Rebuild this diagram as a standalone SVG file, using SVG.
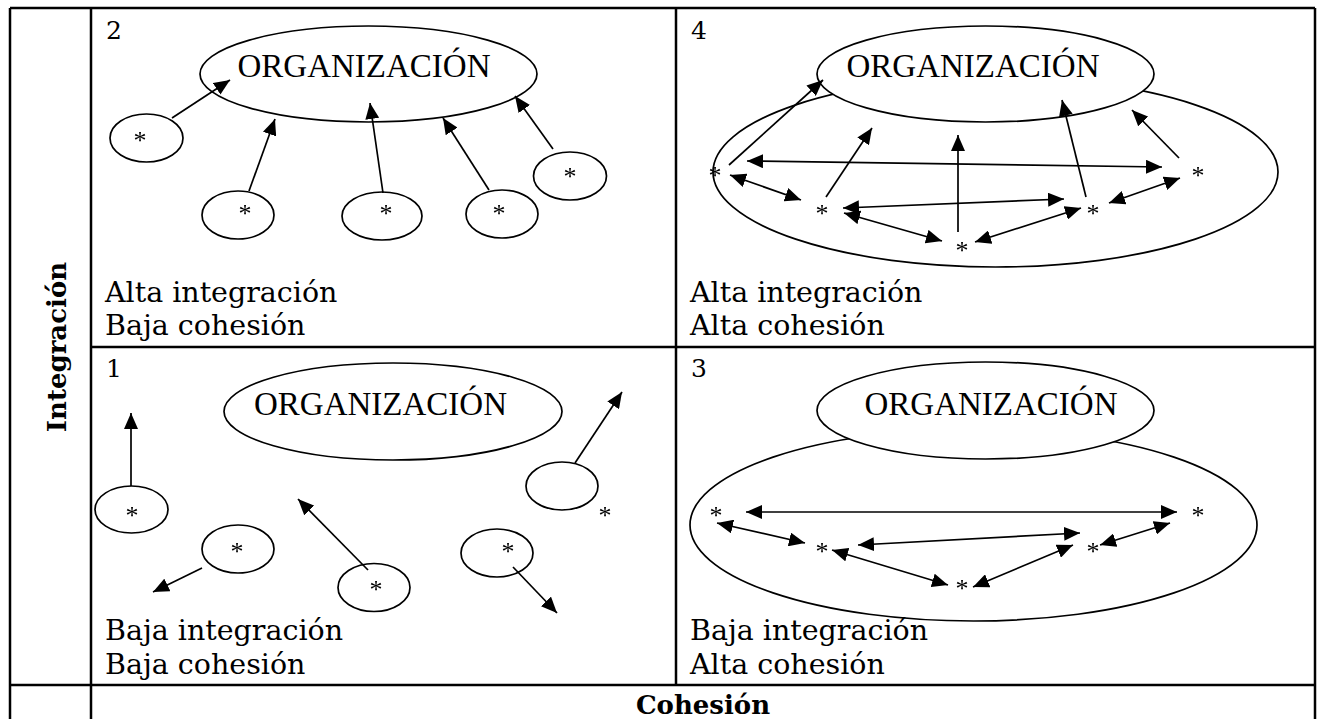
<svg xmlns="http://www.w3.org/2000/svg" width="1319" height="719" viewBox="0 0 1319 719">
  <style>
    .grid { stroke: #000; stroke-width: 2.5; fill: none; }
    .ell { stroke: #000; stroke-width: 1.7; fill: #fff; }
    .ring { stroke: #000; stroke-width: 1.7; fill: none; }
    .ln { stroke: #000; stroke-width: 1.7; fill: none; marker-end: url(#ah); }
    .dbl { stroke: #000; stroke-width: 1.7; fill: none; marker-end: url(#ah); marker-start: url(#ah); }
    .org { font-family: "Liberation Serif", "Times New Roman", serif; font-size: 33px; text-anchor: middle; fill: #000; }
    .star { font-family: "Liberation Serif", serif; font-size: 26px; text-anchor: middle; fill: #000; filter: url(#flat); }
    .lbl { font-family: "DejaVu Serif", serif; font-size: 28.5px; fill: #000; }
    .num { font-family: "DejaVu Serif", serif; font-size: 25px; fill: #000; }
    .axis { font-family: "DejaVu Serif", serif; font-size: 26px; font-weight: bold; text-anchor: middle; fill: #000; }
  </style>
  <defs>
    <marker id="ah" viewBox="0 0 16 14" refX="16" refY="7" markerWidth="16" markerHeight="14" markerUnits="userSpaceOnUse" orient="auto-start-reverse">
      <path d="M0,0 L16,7 L0,14 z" fill="#000"/>
    </marker>
    <!-- pass-through filter so the small asterisks are rasterised in greyscale -->
    <filter id="flat" x="-50%" y="-50%" width="200%" height="200%">
      <feOffset dx="0" dy="0"/>
    </filter>
  </defs>
  <rect width="1319" height="719" fill="#fff"/>

  <!-- table grid -->
  <g id="table">
    <line class="grid" x1="10" y1="8" x2="1315" y2="8"/>
    <line class="grid" x1="10" y1="8" x2="10" y2="719"/>
    <line class="grid" x1="1315" y1="8" x2="1315" y2="719"/>
    <line class="grid" x1="91" y1="8" x2="91" y2="719"/>
    <line class="grid" x1="676" y1="8" x2="676" y2="685"/>
    <line class="grid" x1="91" y1="347" x2="1315" y2="347"/>
    <line class="grid" x1="10" y1="685" x2="1315" y2="685"/>
  </g>

  <!-- axis labels -->
  <g id="axis-integracion">
    <text class="axis" transform="translate(66,347) rotate(-90)">Integración</text>
  </g>
  <g id="axis-cohesion">
    <text class="axis" x="703" y="714">Cohesión</text>
  </g>

  <!-- quadrant 2 : alta integración, baja cohesión -->
  <g id="q2">
    <text class="num" x="106" y="39">2</text>
    <ellipse class="ell" cx="368.5" cy="74" rx="168.5" ry="48"/>
    <text class="org" x="364" y="77">ORGANIZACIÓN</text>
    <ellipse class="ell" cx="146.5" cy="138" rx="36.5" ry="24"/>
    <text class="star" x="140" y="149">*</text>
    <ellipse class="ell" cx="238" cy="215" rx="36" ry="24"/>
    <text class="star" x="245" y="222">*</text>
    <ellipse class="ell" cx="382" cy="216" rx="40" ry="24"/>
    <text class="star" x="386" y="222">*</text>
    <ellipse class="ell" cx="502" cy="214" rx="36" ry="24"/>
    <text class="star" x="499" y="222">*</text>
    <ellipse class="ell" cx="570" cy="176" rx="36.5" ry="24"/>
    <text class="star" x="570" y="185">*</text>
    <text class="lbl" x="105" y="302">Alta integración</text>
    <text class="lbl" x="105" y="335">Baja cohesión</text>
  </g>

  <!-- quadrant 4 : alta integración, alta cohesión -->
  <g id="q4">
    <text class="num" x="691" y="39">4</text>
    <ellipse class="ring" cx="995.5" cy="172" rx="282.5" ry="95"/>
    <ellipse class="ell" cx="985.5" cy="74" rx="168.5" ry="48"/>
    <text class="org" x="973" y="77">ORGANIZACIÓN</text>
    <text class="star" x="715" y="184">*</text>
    <text class="star" x="822" y="222">*</text>
    <text class="star" x="962" y="259">*</text>
    <text class="star" x="1093" y="222">*</text>
    <text class="star" x="1198" y="184">*</text>
    <text class="lbl" x="690" y="302">Alta integración</text>
    <text class="lbl" x="690" y="335">Alta cohesión</text>
  </g>

  <!-- quadrant 1 : baja integración, baja cohesión -->
  <g id="q1">
    <text class="num" x="106" y="377">1</text>
    <ellipse class="ell" cx="393" cy="411.5" rx="169" ry="48.5"/>
    <text class="org" x="380.5" y="415">ORGANIZACIÓN</text>
    <ellipse class="ell" cx="131.5" cy="509.5" rx="36.5" ry="23.5"/>
    <text class="star" x="132" y="524">*</text>
    <ellipse class="ell" cx="238" cy="549" rx="36" ry="24"/>
    <text class="star" x="237" y="560">*</text>
    <ellipse class="ell" cx="374" cy="587.5" rx="36" ry="24"/>
    <text class="star" x="376" y="598">*</text>
    <ellipse class="ell" cx="562" cy="486" rx="36" ry="24"/>
    <text class="star" x="605" y="524">*</text>
    <ellipse class="ell" cx="497" cy="553" rx="36" ry="24"/>
    <text class="star" x="508" y="560">*</text>
    <text class="lbl" x="105" y="640">Baja integración</text>
    <text class="lbl" x="105" y="674">Baja cohesión</text>
  </g>

  <!-- quadrant 3 : baja integración, alta cohesión -->
  <g id="q3">
    <text class="num" x="691" y="377">3</text>
    <ellipse class="ring" cx="973.5" cy="525" rx="283.5" ry="96"/>
    <ellipse class="ell" cx="985.5" cy="410.5" rx="168.5" ry="48.5"/>
    <text class="org" x="991" y="415">ORGANIZACIÓN</text>
    <text class="star" x="716" y="524">*</text>
    <text class="star" x="822" y="560">*</text>
    <text class="star" x="962" y="597">*</text>
    <text class="star" x="1093" y="560">*</text>
    <text class="star" x="1198" y="524">*</text>
    <text class="lbl" x="690" y="640">Baja integración</text>
    <text class="lbl" x="690" y="674">Alta cohesión</text>
  </g>

  <!-- connectors -->
  <g id="connectors">
    <!-- q2 -->
    <line class="ln" x1="172" y1="118" x2="230" y2="80"/>
    <line class="ln" x1="249" y1="191" x2="275" y2="119"/>
    <line class="ln" x1="383" y1="193" x2="370" y2="103"/>
    <line class="ln" x1="489" y1="190" x2="443" y2="118"/>
    <line class="ln" x1="553" y1="149" x2="515" y2="96"/>
    <!-- q4 -->
    <line class="ln" x1="729" y1="165" x2="823" y2="80"/>
    <line class="dbl" x1="747" y1="161" x2="1162" y2="167"/>
    <line class="dbl" x1="730" y1="175" x2="801" y2="200"/>
    <line class="ln" x1="826" y1="197" x2="872" y2="128"/>
    <line class="dbl" x1="843" y1="208" x2="1064" y2="199"/>
    <line class="dbl" x1="844" y1="213" x2="942" y2="241"/>
    <line class="ln" x1="958" y1="232" x2="958" y2="135"/>
    <line class="dbl" x1="975" y1="242" x2="1081" y2="208"/>
    <line class="ln" x1="1086" y1="197" x2="1062" y2="100"/>
    <line class="dbl" x1="1109" y1="203" x2="1180" y2="178"/>
    <line class="ln" x1="1179" y1="158" x2="1132" y2="110"/>
    <!-- q1 -->
    <line class="ln" x1="131" y1="486" x2="131" y2="413"/>
    <line class="ln" x1="202" y1="568" x2="153" y2="592"/>
    <line class="ln" x1="368" y1="570" x2="298" y2="499"/>
    <line class="ln" x1="575" y1="463" x2="622" y2="392"/>
    <line class="ln" x1="513" y1="567" x2="557" y2="613"/>
    <!-- q3 -->
    <line class="dbl" x1="746" y1="512" x2="1177" y2="512"/>
    <line class="dbl" x1="717" y1="523" x2="805" y2="543"/>
    <line class="dbl" x1="858" y1="545" x2="1080" y2="533"/>
    <line class="dbl" x1="832" y1="550" x2="948" y2="585"/>
    <line class="dbl" x1="973" y1="587" x2="1073" y2="545"/>
    <line class="dbl" x1="1100" y1="545" x2="1170" y2="523"/>
  </g>
</svg>
